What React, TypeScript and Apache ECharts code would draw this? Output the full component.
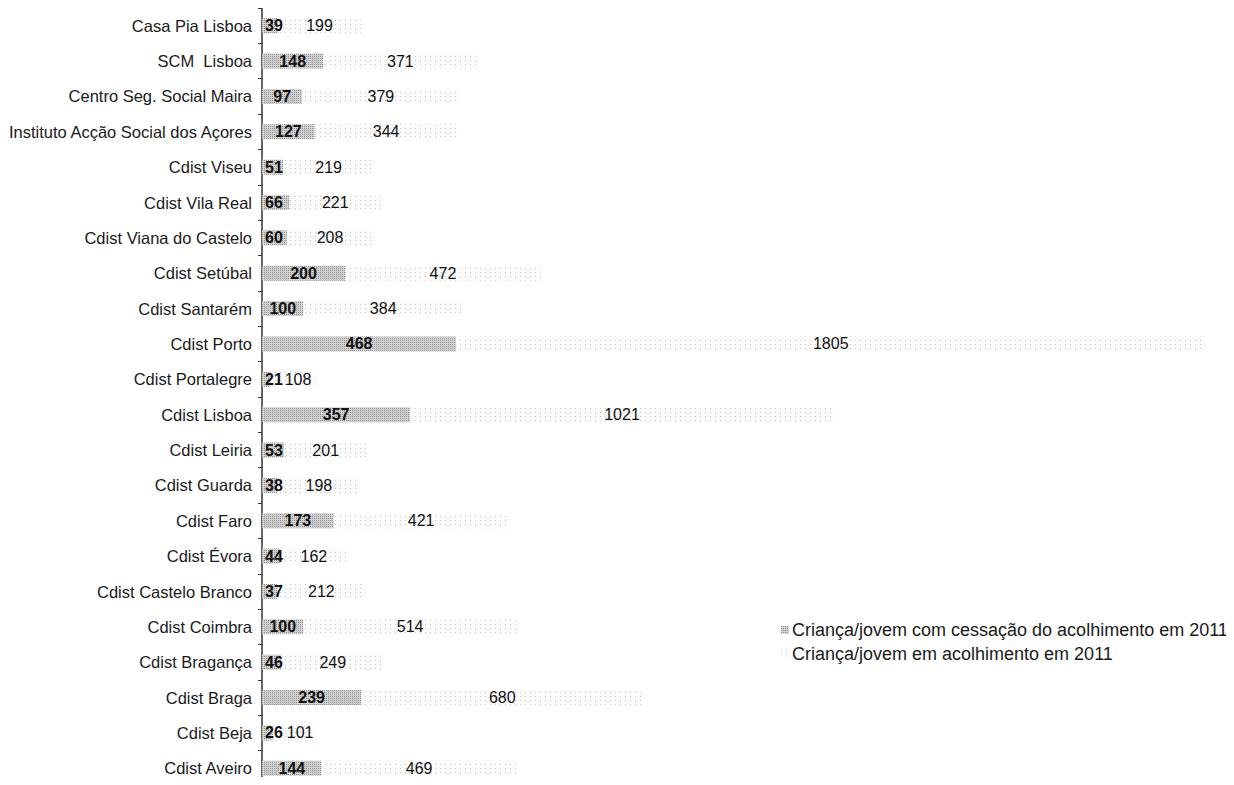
import React, { useEffect, useRef } from "react";
import * as echarts from "echarts";

const categories = [
  "Casa Pia Lisboa",
  "SCM  Lisboa",
  "Centro Seg. Social Maira",
  "Instituto Acção Social dos Açores",
  "Cdist Viseu",
  "Cdist Vila Real",
  "Cdist Viana do Castelo",
  "Cdist Setúbal",
  "Cdist Santarém",
  "Cdist Porto",
  "Cdist Portalegre",
  "Cdist Lisboa",
  "Cdist Leiria",
  "Cdist Guarda",
  "Cdist Faro",
  "Cdist Évora",
  "Cdist Castelo Branco",
  "Cdist Coimbra",
  "Cdist Bragança",
  "Cdist Braga",
  "Cdist Beja",
  "Cdist Aveiro",
];

const cessacao = [39, 148, 97, 127, 51, 66, 60, 200, 100, 468, 21, 357, 53, 38, 173, 44, 37, 100, 46, 239, 26, 144];
const acolhimento = [199, 371, 379, 344, 219, 221, 208, 472, 384, 1805, 108, 1021, 201, 198, 421, 162, 212, 514, 249, 680, 101, 469];

const seriesNames = [
  "Criança/jovem com cessação do acolhimento em 2011",
  "Criança/jovem em acolhimento em 2011",
];

const FONT = "'Liberation Sans', Arial, sans-serif";

export default function App() {
  const ref = useRef<HTMLDivElement>(null);
  useEffect(() => {
    if (!ref.current) return;
    const chart = echarts.init(ref.current, null, { renderer: "svg" });
    chart.setOption({
      animation: false,
      backgroundColor: "#ffffff",
      textStyle: { fontFamily: FONT },
      grid: {
        left: 262,
        top: 8,
        width: 954.5,
        height: 778,
        containLabel: false,
        outerBoundsMode: "none",
      },
      legend: {
        orient: "vertical",
        left: 776,
        top: 616,
        itemGap: 6,
        itemWidth: 8,
        itemHeight: 8,
        icon: "rect",
        data: seriesNames,
        textStyle: { fontFamily: FONT, fontSize: 18, color: "#1a1a1a", padding: [0, 0, 0, -2] },
      },
      xAxis: {
        type: "value",
        min: 0,
        max: 2300,
        show: false,
        splitLine: { show: false },
      },
      yAxis: {
        type: "category",
        inverse: true,
        data: categories,
        axisLine: { show: true, lineStyle: { color: "#333", width: 1.5 } },
        axisTick: { show: true, length: 4, lineStyle: { color: "#333", width: 1 } },
        axisLabel: { fontFamily: FONT, fontSize: 16.5, color: "#1a1a1a", margin: 10 },
      },
      series: [
        {
          name: seriesNames[0],
          type: "bar",
          stack: "total",
          barWidth: 15,
          data: cessacao.map((v) =>
            v < 70 ? { value: v, label: { position: "insideLeft", distance: 3 } } : v
          ),
          itemStyle: {
            color: "#d2d2d2",
            decal: {
              symbol: "rect",
              symbolSize: 1,
              color: "rgba(80,80,80,0.5)",
              dashArrayX: [[1, 1]],
              dashArrayY: [1, 1],
              rotation: 0,
            },
          },
          label: {
            show: true,
            position: "inside",
            fontFamily: FONT,
            fontSize: 16,
            fontWeight: "bold",
            color: "#111",
          },
        },
        {
          name: seriesNames[1],
          type: "bar",
          stack: "total",
          barWidth: 15,
          data: acolhimento.map((v) =>
            v < 120 ? { value: v, label: { position: "insideLeft", distance: 14 } } : v
          ),
          itemStyle: {
            color: "#fcfcfc",
            decal: {
              symbol: "rect",
              symbolSize: 1,
              color: "rgba(150,150,150,0.55)",
              dashArrayX: [[1, 4]],
              dashArrayY: [1, 3],
              rotation: 0,
            },
          },
          label: {
            show: true,
            position: "inside",
            fontFamily: FONT,
            fontSize: 16,
            color: "#111",
          },
        },
      ],
    });
    return () => chart.dispose();
  }, []);
  return <div ref={ref} style={{ width: 1234, height: 785, margin: -8 }} />;
}
